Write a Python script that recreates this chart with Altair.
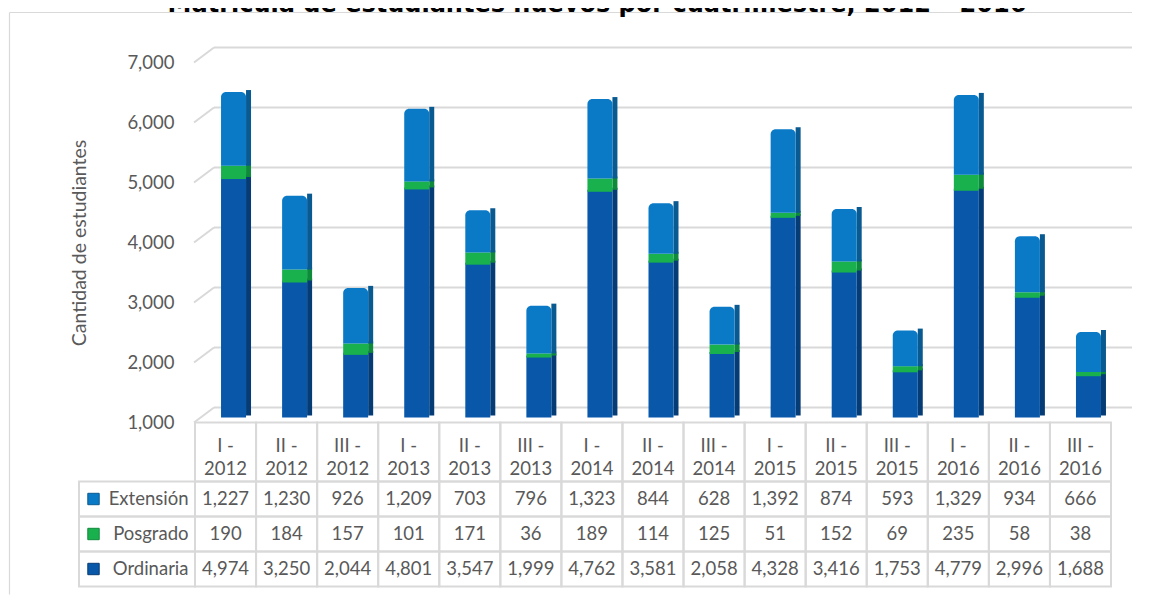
import altair as alt
import pandas as pd

periods = ["I", "II", "III"]
years = ["2012", "2013", "2014", "2015", "2016"]
categories = [f"{p} - {y}" for y in years for p in periods]
series = ["Extensión", "Posgrado", "Ordinaria"]
extension = [1227, 1230, 926, 1209, 703, 796, 1323, 844, 628, 1392, 874, 593, 1329, 934, 666]
posgrado = [190, 184, 157, 101, 171, 36, 189, 114, 125, 51, 152, 69, 235, 58, 38]
ordinaria = [4974, 3250, 2044, 4801, 3547, 1999, 4762, 3581, 2058, 4328, 3416, 1753, 4779, 2996, 1688]
y_ticks = [1000, 2000, 3000, 4000, 5000, 6000, 7000]
title_text = "Matrícula de estudiantes nuevos  por cuatrimestre, 2012 – 2016"
axis_title = "Cantidad de estudiantes"

rows = []
cat_rows = []
for i, cat in enumerate(categories):
    per, yr = cat.split(" - ")
    cat_rows.append({"cat": cat, "per": per, "year": yr})
    for s, vals, o in [("Ordinaria", ordinaria, 0), ("Posgrado", posgrado, 1), ("Extensión", extension, 2)]:
        rows.append({"cat": cat, "serie": s, "value": vals[i], "ord": o})
df = pd.DataFrame(rows)
cat_df = pd.DataFrame(cat_rows)
tick_df = pd.DataFrame({"tick": y_ticks})
series_df = pd.DataFrame({"serie": series})
title_df = pd.DataFrame({"t": [title_text]})

FONT = "Lato"
TXT = "#595959"
GRID = "#D9D9D9"
front_expr = ("datum.serie === 'Extensión' ? '#0A7AC7' : "
              "datum.serie === 'Posgrado' ? '#19B14D' : '#0857A9'")
side_expr = ("datum.serie === 'Extensión' ? '#0A5A92' : "
             "datum.serie === 'Posgrado' ? '#0E8A3B' : '#053C75'")

X = alt.X("cat:N", sort=categories,
          scale=alt.Scale(domain=categories, paddingInner=0, paddingOuter=0),
          axis=None)
yscale = alt.Scale(domain=[1000, 7000], nice=False, zero=False, clamp=True)
yaxis = alt.Axis(values=y_ticks, format=",.0f", grid=False, domain=False, ticks=False,
                 labelPadding=21, labelOffset=7, labelFont=FONT, labelFontSize=18.5,
                 labelColor=TXT, title=axis_title, titleFont=FONT, titleFontSize=19.5,
                 titleFontWeight="normal", titleColor=TXT, titleX=-116, titleY=187,
                 titleAngle=-90, titleAlign="center", titleBaseline="middle")

# outer frame of the chart (left and top edges are the visible ones)
frame_left = alt.Chart(title_df).mark_rule(color=GRID, strokeWidth=1.2).encode(
    x=alt.value(-185.5), y=alt.value(-43), y2=alt.value(539))
frame_top = alt.Chart(title_df).mark_rule(color=GRID, strokeWidth=1.2).encode(
    x=alt.value(-185.5), x2=alt.value(937), y=alt.value(-43))

grid = alt.Chart(tick_df).mark_rule(color=GRID, strokeWidth=2, yOffset=-8).encode(
    y=alt.Y("tick:Q", scale=yscale, axis=yaxis),
    x=alt.value(19), x2=alt.value(937))

slant = alt.Chart(tick_df).mark_rule(color=GRID, strokeWidth=2, yOffset=7, y2Offset=-8).encode(
    y=alt.Y("tick:Q", scale=yscale, axis=yaxis), y2="tick:Q",
    x=alt.value(-1), x2=alt.value(19))

base = alt.Chart(df).transform_stack(
    stack="value", groupby=["cat"], as_=["y0", "y1"],
    sort=[alt.SortField("ord", order="ascending")]
).transform_calculate(front=front_expr, side=side_expr)

side = base.mark_bar(width=5, xOffset=23, yOffset=-2, y2Offset=0).encode(
    x=X, y=alt.Y("y1:Q", scale=yscale, axis=yaxis), y2="y0:Q",
    color=alt.Color("side:N", scale=None))

front_low = base.transform_filter("datum.serie !== 'Extensión'").mark_bar(
    width=25, xOffset=8, y2Offset=2).encode(
    x=X, y=alt.Y("y1:Q", scale=yscale, axis=yaxis), y2="y0:Q",
    color=alt.Color("front:N", scale=None))

front_top = base.transform_filter("datum.serie === 'Extensión'").mark_bar(
    width=25, xOffset=8, cornerRadiusTopLeft=5, cornerRadiusTopRight=5).encode(
    x=X, y=alt.Y("y1:Q", scale=yscale, axis=yaxis), y2="y0:Q",
    color=alt.Color("front:N", scale=None))

title = alt.Chart(title_df).mark_text(
    font="DejaVu Sans", fontWeight="bold", fontSize=24, color="#000000",
    align="center", baseline="alphabetic"
).encode(text="t:N", x=alt.value(402), y=alt.value(-44))

bars = alt.layer(frame_left, frame_top, grid, slant, side, front_low, front_top, title).properties(
    width=916, height=360)

header_base = alt.Chart(cat_df).transform_calculate(lbl="datum.per + ' -\\n' + datum.year")
header_cells = header_base.mark_rect(fill="white", fillOpacity=0, stroke=GRID, strokeWidth=2).encode(x=X)
header_text = header_base.mark_text(font=FONT, fontSize=18.5, color=TXT, lineBreak="\n",
                                    lineHeight=23, baseline="middle", dy=-6).encode(
    x=X, text="lbl:N")
header = alt.layer(header_cells, header_text).properties(width=916, height=59)

Y_tab = alt.Y("serie:N", sort=series,
              scale=alt.Scale(domain=series, paddingInner=0, paddingOuter=0),
              axis=alt.Axis(title=None, domain=False, ticks=False, labelPadding=7,
                            labelFont=FONT, labelFontSize=18.5, labelColor=TXT, zindex=1))
cells = alt.Chart(df).mark_rect(fill="white", fillOpacity=0, stroke=GRID, strokeWidth=2).encode(
    x=X, y=Y_tab)
vals = alt.Chart(df).mark_text(font=FONT, fontSize=18.5, color=TXT).encode(
    x=X, y=Y_tab, text=alt.Text("value:Q", format=",.0f"))
leg_cells = alt.Chart(series_df).mark_rect(fill="white", fillOpacity=0, stroke=GRID, strokeWidth=2).encode(
    y=Y_tab, x=alt.value(-116), x2=alt.value(0))
leg_sq = alt.Chart(series_df).transform_calculate(front=front_expr, side=side_expr).mark_square(
    size=130, opacity=1, strokeWidth=1).encode(
    y=Y_tab, x=alt.value(-101.5),
    fill=alt.Fill("front:N", scale=None), stroke=alt.Stroke("side:N", scale=None))
table = alt.layer(cells, vals, leg_cells, leg_sq).properties(width=916, height=105)

chart = alt.vconcat(
    bars,
    alt.vconcat(header, table, spacing=0, bounds="flush"),
    spacing=7, bounds="flush"
).properties(
    padding={"left": 0, "top": -15.5, "right": 0, "bottom": 0},
    background="white"
).configure_view(strokeWidth=0)

chart.save("out.html", embed_options={"renderer": "svg", "actions": False})
